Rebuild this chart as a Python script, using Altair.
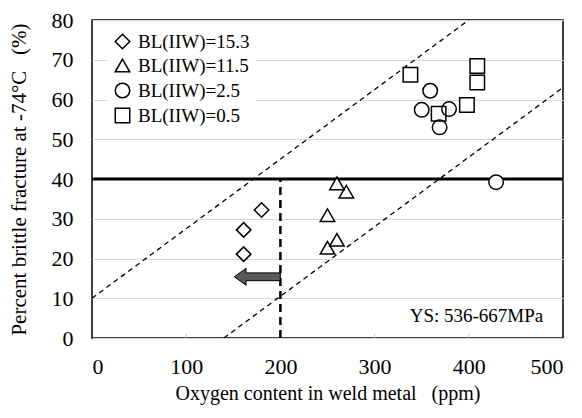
import altair as alt
import pandas as pd

# ---- data ----
groups = ["BL(IIW)=15.3", "BL(IIW)=11.5", "BL(IIW)=2.5", "BL(IIW)=0.5"]
shapes = ["diamond", "triangle-up", "circle", "square"]

diamond_x = [161, 161, 180]
diamond_y = [21.1, 27.2, 32.2]
triangle_x = [250, 250, 260, 260, 270]
triangle_y = [22.7, 30.9, 24.7, 38.9, 36.8]
circle_x = [350, 359, 369, 379, 429]
circle_y = [57.4, 62.2, 53.0, 57.6, 39.2]
square_x = [338, 368, 398, 409, 409]
square_y = [66.2, 56.4, 58.6, 64.3, 68.4]

x_ticks = [0, 100, 200, 300, 400, 500]
y_ticks = [0, 10, 20, 30, 40, 50, 60, 70, 80]
minor_x = [100, 200, 300, 400]

threshold_y = 40
oxygen_limit = 200
band_upper_x = [0, 400]
band_upper_y = [10, 80]
band_lower_x = [140, 500]
band_lower_y = [0, 63]
arrow_x = [175.5]
arrow_y = [15.4]
note_text = ["YS: 536-667MPa"]
note_x = [479]
note_y = [4]

FONT = "Liberation Serif"

rows = []
for g, xs_, ys_ in zip(groups, [diamond_x, triangle_x, circle_x, square_x],
                       [diamond_y, triangle_y, circle_y, square_y]):
    for xv, yv in zip(xs_, ys_):
        rows.append({"group": g, "x": xv, "y": yv})
pts = pd.DataFrame(rows)

xs = alt.Scale(domain=[0, 500], nice=False)
ys = alt.Scale(domain=[0, 80], nice=False)

x_axis = alt.Axis(values=x_ticks, grid=False, domain=False, ticks=False, tickSize=0,
                  labelPadding=18, labelFontSize=22, labelFont=FONT, labelColor="black",
                  titlePadding=6, titleFontSize=20, titleFont=FONT, titleColor="black",
                  titleFontWeight="normal",
                  title="Oxygen content in weld metal\u00a0\u00a0\u00a0(ppm)")
y_axis = alt.Axis(values=y_ticks, grid=True, domain=False, ticks=False, tickSize=0,
                  gridColor="#d9d9d9", gridWidth=1,
                  labelPadding=19, labelFontSize=22, labelFont=FONT, labelColor="black",
                  titlePadding=22, titleFontSize=21, titleFont=FONT, titleColor="black",
                  titleFontWeight="normal",
                  title="Percent brittle fracture at -74°C\u00a0\u00a0\u00a0(%)")

base_x = alt.X("x:Q", scale=xs, axis=x_axis)
base_y = alt.Y("y:Q", scale=ys, axis=y_axis)

# minor ticks at bottom
minor_df = pd.DataFrame({"x": minor_x, "y": [0] * 4, "y2": [1] * 4})
minor = alt.Chart(minor_df).mark_rule(color="#bfbfbf", strokeWidth=1).encode(
    x=base_x, y=base_y, y2="y2:Q")

# dashed band lines
band_df = pd.DataFrame({
    "x": band_upper_x + band_lower_x,
    "y": band_upper_y + band_lower_y,
    "line": ["upper", "upper", "lower", "lower"],
})
bands = alt.Chart(band_df).mark_line(color="black", strokeWidth=1.3, strokeDash=[5, 4]).encode(
    x=base_x, y=base_y, detail="line:N")

# vertical dashed at oxygen limit
vdf = pd.DataFrame({"x": [oxygen_limit], "y": [0], "y2": [threshold_y]})
vline = alt.Chart(vdf).mark_rule(color="black", strokeWidth=2.5, strokeDash=[8, 5]).encode(
    x=base_x, y=base_y, y2="y2:Q")

# horizontal threshold
hdf = pd.DataFrame({"x": [0], "x2": [500], "y": [threshold_y]})
hline = alt.Chart(hdf).mark_rule(color="black", strokeWidth=3).encode(
    x=base_x, x2="x2:Q", y=base_y)

# arrow
arrow_path = "M -1 0 L -0.49 -0.37 L -0.49 -0.17 L 1 -0.17 L 1 0.17 L -0.49 0.17 L -0.49 0.37 Z"
adf = pd.DataFrame({"x": arrow_x, "y": arrow_y})
arrow = alt.Chart(adf).mark_point(shape=arrow_path, size=2116, filled=True, fill="#595959",
                                  stroke="black", strokeWidth=1, opacity=1).encode(x=base_x, y=base_y)

# note
ndf = pd.DataFrame({"x": note_x, "y": note_y, "t": note_text})
note = alt.Chart(ndf).mark_text(align="right", baseline="alphabetic", font=FONT, fontSize=19,
                                color="black").encode(x=base_x, y=base_y, text="t:N")

underlay = alt.Chart(pts).mark_point(filled=True, color="white", opacity=1, size=210).encode(
    x=base_x, y=base_y,
    shape=alt.Shape("group:N", scale=alt.Scale(domain=groups, range=shapes), legend=None),
)

points = alt.Chart(pts).mark_point(filled=False, color="black", strokeWidth=1.5,
                                   opacity=1, size=210).encode(
    x=base_x, y=base_y,
    shape=alt.Shape("group:N", scale=alt.Scale(domain=groups, range=shapes),
                    legend=alt.Legend(title=None, orient="none", legendX=15, legendY=6,
                                      fillColor="white", padding=6, rowPadding=4,
                                      symbolSize=210, symbolStrokeWidth=1.5,
                                      labelFont=FONT, labelFontSize=19, labelColor="black",
                                      labelOffset=6, labelLimit=300)),
)

chart = alt.layer(minor, bands, vline, hline, arrow, note, underlay, points).resolve_scale(
    shape="independent"
).properties(
    width=471, height=318,
    autosize=alt.AutoSizeParams(type="none"),
    padding={"left": 92, "top": 20, "right": 19, "bottom": 80},
    background="white",
).configure_view(stroke="black", strokeWidth=1.5)

chart.save("out.html", embed_options={"renderer": "svg", "actions": False})
